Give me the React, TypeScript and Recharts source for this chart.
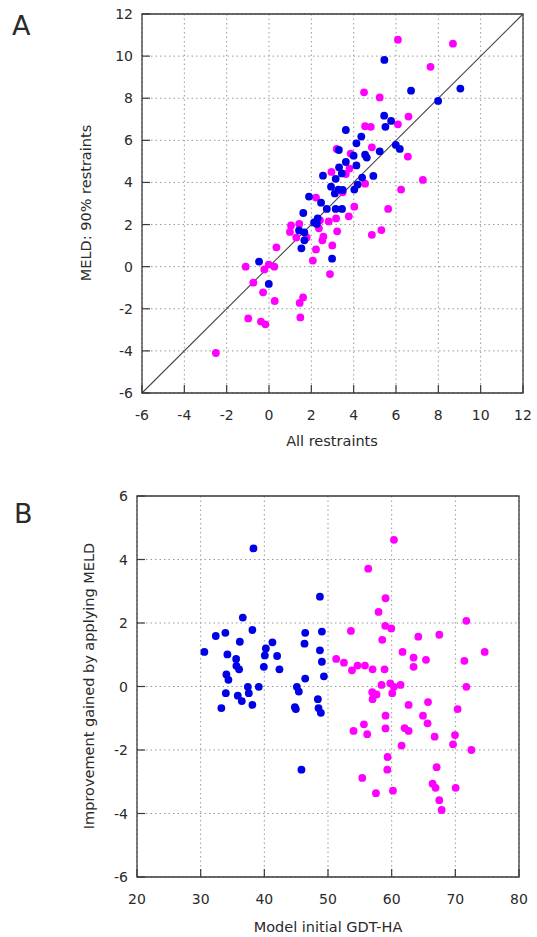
import React from 'react';
import { ScatterChart, Scatter, XAxis, YAxis, CartesianGrid, ReferenceLine, ReferenceArea } from 'recharts';

// Panel A: all restraints (x) vs MELD with 90% restraints (y)
const aTicks = [-6, -4, -2, 0, 2, 4, 6, 8, 10, 12];
const aBlue: [number, number][] = [
  [5.45, 9.82], [6.71, 8.36], [9.04, 8.46], [7.99, 7.87], [5.44, 7.17], [5.77, 6.92], [5.5, 6.64],
  [3.63, 6.49], [4.36, 6.18], [4.13, 5.86], [5.99, 5.78], [6.18, 5.59], [3.3, 5.54], [5.23, 5.48],
  [4.0, 5.27], [4.54, 5.32], [4.62, 5.18], [3.63, 4.97], [4.13, 4.81], [3.31, 4.72], [3.44, 4.43],
  [4.93, 4.31], [4.4, 4.23], [3.15, 4.17], [4.19, 3.9], [2.93, 3.8], [3.28, 3.66], [4.03, 3.66],
  [3.48, 3.64], [3.11, 3.48], [2.55, 4.32], [1.89, 3.33], [2.46, 3.04], [2.73, 2.74], [1.62, 2.55],
  [3.15, 2.74], [3.45, 2.74], [2.3, 2.29], [2.13, 2.1], [2.26, 2.03], [1.42, 1.72], [1.67, 1.63],
  [1.67, 1.25], [1.53, 0.87], [2.98, 0.38], [-0.47, 0.24], [-0.01, -0.82],
];
const aMagenta: [number, number][] = [
  [6.09, 10.78], [8.69, 10.59], [7.63, 9.49], [4.49, 8.28], [5.23, 8.04], [6.59, 7.13], [6.09, 6.76],
  [4.54, 6.67], [4.81, 6.64], [4.86, 5.67], [3.2, 5.59], [3.86, 5.37], [6.56, 5.23], [3.8, 4.66],
  [3.63, 4.4], [2.95, 4.5], [7.27, 4.12], [4.54, 3.94], [6.24, 3.66], [3.48, 3.53], [2.22, 3.28],
  [4.03, 2.85], [5.63, 2.74], [3.77, 2.39], [3.17, 2.29], [2.41, 2.2], [2.82, 2.15], [1.04, 1.96],
  [1.43, 2.03], [0.99, 1.65], [2.36, 1.82], [1.78, 1.39], [1.29, 1.38], [2.57, 1.43], [2.52, 1.25],
  [3.22, 1.68], [5.31, 1.74], [4.86, 1.51], [2.99, 1.01], [0.35, 0.92], [2.22, 0.82], [2.07, 0.29],
  [2.88, -0.35], [-0.01, 0.1], [-1.1, 0.0], [-0.22, -0.13], [0.25, 0.0], [-0.74, -0.76], [-0.28, -1.22],
  [1.61, -1.46], [1.45, -1.72], [0.27, -1.63], [-0.98, -2.46], [1.48, -2.41], [-0.38, -2.61],
  [-0.17, -2.74], [-2.51, -4.1],
];

// Panel B: model initial GDT-HA (x) vs improvement from MELD (y)
const bXTicks = [20, 30, 40, 50, 60, 70, 80];
const bYTicks = [-6, -4, -2, 0, 2, 4, 6];
const bBlue: [number, number][] = [
  [38.29, 4.35], [48.73, 2.83], [36.62, 2.17], [38.13, 1.78], [32.37, 1.59], [33.88, 1.69], [46.42, 1.69],
  [49.04, 1.73], [36.15, 1.41], [41.27, 1.39], [46.31, 1.35], [40.24, 1.2], [30.58, 1.09], [34.2, 1.01],
  [40.08, 0.98], [42.01, 0.96], [48.73, 1.14], [35.57, 0.87], [49.04, 0.78], [35.61, 0.65], [36.04, 0.54],
  [39.92, 0.62], [42.37, 0.54], [34.04, 0.38], [34.36, 0.21], [46.42, 0.25], [49.36, 0.32], [37.41, -0.01],
  [39.13, -0.01], [45.11, -0.01], [33.95, -0.21], [35.83, -0.29], [37.56, -0.21], [36.46, -0.46],
  [45.42, -0.16], [48.41, -0.4], [33.25, -0.68], [38.13, -0.58], [44.8, -0.65], [44.95, -0.71],
  [48.51, -0.68], [48.88, -0.83], [45.83, -2.62],
];
const bMagenta: [number, number][] = [
  [60.36, 4.62], [56.32, 3.71], [59.04, 2.78], [57.94, 2.35], [71.73, 2.07], [53.6, 1.75], [58.99, 1.91],
  [59.94, 1.83], [58.52, 1.47], [64.18, 1.57], [67.48, 1.63], [61.71, 1.09], [74.61, 1.09], [51.29, 0.87],
  [63.44, 0.91], [65.39, 0.84], [71.42, 0.81], [52.5, 0.75], [63.44, 0.62], [54.64, 0.66], [55.8, 0.66],
  [53.76, 0.51], [57.0, 0.54], [58.88, 0.54], [58.41, 0.05], [59.78, 0.1], [60.36, -0.01], [61.4, 0.05],
  [71.73, -0.01], [56.95, -0.18], [57.63, -0.25], [57.0, -0.4], [60.09, -0.21], [62.66, -0.58],
  [65.71, -0.49], [70.36, -0.71], [59.04, -0.92], [64.92, -0.92], [55.64, -1.19], [65.64, -1.16],
  [59.04, -1.32], [62.03, -1.31], [62.66, -1.4], [54.01, -1.4], [56.16, -1.5], [66.75, -1.58],
  [69.95, -1.53], [69.64, -1.82], [61.56, -1.86], [72.52, -2.0], [59.36, -2.22], [67.06, -2.54],
  [59.31, -2.62], [55.38, -2.88], [66.43, -3.06], [66.9, -3.19], [70.05, -3.19], [57.53, -3.36],
  [60.2, -3.28], [67.48, -3.58], [67.85, -3.89],
];

const BLUE = '#0000e6';
const MAGENTA = '#ff00ff';
const FRAME = '#3a3a3a';
const TEXT = '#2a2a2a';
const FONT = '"DejaVu Sans", Verdana, sans-serif';

const toPts = (arr: [number, number][]) => arr.map(([x, y]) => ({ x, y }));

const Dot = (color: string) => (p: any) => <circle cx={p.cx} cy={p.cy} r={3.9} fill={color} />;

// ticks point inward from the frame, labels sit outside
const YTick = ({ x, y, payload }: any) => (
  <g>
    <line x1={x} x2={x + 8} y1={y} y2={y} stroke={FRAME} strokeWidth={1.2} />
    <text x={x - 9} y={y + 5} textAnchor="end" fontSize={14} fill={TEXT} fontFamily={FONT}>
      {payload.value}
    </text>
  </g>
);

const XTick = ({ x, y, payload }: any) => (
  <g>
    <line x1={x} x2={x} y1={y} y2={y - 8} stroke={FRAME} strokeWidth={1.2} />
    <text x={x} y={y + 26.5} textAnchor="middle" fontSize={14} fill={TEXT} fontFamily={FONT}>
      {payload.value}
    </text>
  </g>
);

const App = () => {
  return (
    <div style={{ position: 'absolute', left: 0, top: 0, width: 537, height: 937, background: '#fff' }}>
      <div style={{ position: 'absolute', left: 0, top: 0 }}>
        <ScatterChart width={537} height={455} margin={{ top: 14, right: 14, bottom: 0, left: 0 }}>
          <CartesianGrid stroke="#999" strokeDasharray="1.5 3" />
          <XAxis type="number" dataKey="x" domain={[-6, 12]} ticks={aTicks} height={62}
            tickSize={0} tickMargin={0} axisLine={false} tickLine={false} tick={XTick} allowDataOverflow />
          <YAxis type="number" dataKey="y" domain={[-6, 12]} ticks={aTicks} width={142}
            tickSize={0} tickMargin={0} axisLine={false} tickLine={false} tick={YTick} allowDataOverflow />
          <ReferenceLine segment={[{ x: -6, y: -6 }, { x: 12, y: 12 }]} stroke="#444" strokeWidth={1.1} />
          <Scatter data={toPts(aMagenta)} shape={Dot(MAGENTA)} isAnimationActive={false} />
          <Scatter data={toPts(aBlue)} shape={Dot(BLUE)} isAnimationActive={false} />
          <ReferenceArea x1={-6} x2={12} y1={-6} y2={12} stroke={FRAME} strokeWidth={1.3} fill="none" />
        </ScatterChart>
      </div>
      <div style={{ position: 'absolute', left: 0, top: 470 }}>
        <ScatterChart width={537} height={467} margin={{ top: 26, right: 18, bottom: 0, left: 0 }}>
          <CartesianGrid stroke="#999" strokeDasharray="1.5 3" />
          <XAxis type="number" dataKey="x" domain={[20, 80]} ticks={bXTicks} height={60}
            tickSize={0} tickMargin={0} axisLine={false} tickLine={false} tick={XTick} allowDataOverflow />
          <YAxis type="number" dataKey="y" domain={[-6, 6]} ticks={bYTicks} width={137}
            tickSize={0} tickMargin={0} axisLine={false} tickLine={false} tick={YTick} allowDataOverflow />
          <Scatter data={toPts(bBlue)} shape={Dot(BLUE)} isAnimationActive={false} />
          <Scatter data={toPts(bMagenta)} shape={Dot(MAGENTA)} isAnimationActive={false} />
          <ReferenceArea x1={20} x2={80} y1={-6} y2={6} stroke={FRAME} strokeWidth={1.3} fill="none" />
        </ScatterChart>
      </div>
      <svg width={537} height={937} style={{ position: 'absolute', left: 0, top: 0, pointerEvents: 'none' }}
        fontFamily={FONT} fill={TEXT}>
        <text x={12} y={35} fontSize={27}>A</text>
        <text x={14} y={523} fontSize={27}>B</text>
        <text x={332} y={446} fontSize={14.5} textAnchor="middle">All restraints</text>
        <text transform="translate(91,203) rotate(-90)" fontSize={14.5} textAnchor="middle">MELD: 90% restraints</text>
        <text x={328} y={932} fontSize={14.5} textAnchor="middle">Model initial GDT-HA</text>
        <text transform="translate(94,686) rotate(-90)" fontSize={14.5} textAnchor="middle">Improvement gained by applying MELD</text>
      </svg>
    </div>
  );
};

export default App;
